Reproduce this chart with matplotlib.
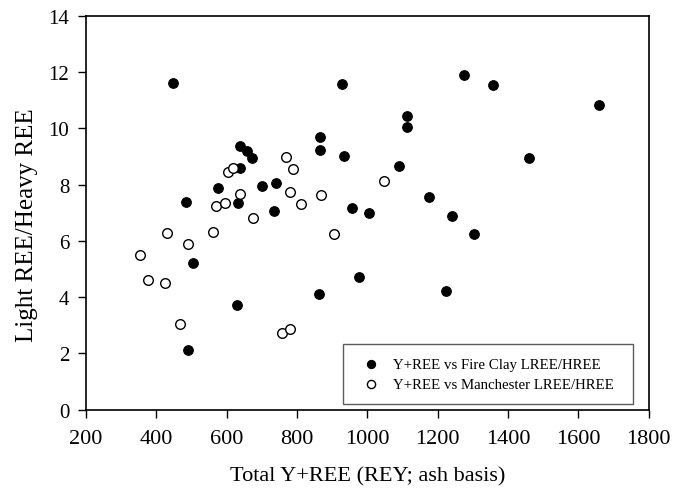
import matplotlib.pyplot as plt

plt.rcParams['font.family'] = ['Liberation Serif', 'DejaVu Serif']

# Fire Clay: total Y+REE vs LREE/HREE
fire_rey = [449, 639, 658, 671, 639, 867, 867, 577, 701, 742, 486, 633, 736, 505, 863, 631, 489,
            927, 1275, 1358, 1658, 1112, 1112, 934, 1460, 1090, 1175, 956, 1004, 1242, 1304, 978, 1225]
fire_ratio = [11.62, 9.37, 9.19, 8.93, 8.57, 9.68, 9.21, 7.86, 7.94, 8.06, 7.39, 7.36, 7.06, 5.21, 4.12, 3.71, 2.14,
              11.57, 11.88, 11.52, 10.83, 10.43, 10.04, 9.02, 8.94, 8.65, 7.57, 7.18, 6.99, 6.90, 6.23, 4.71, 4.21]

# Manchester: total Y+REE vs LREE/HREE
man_rey = [1049, 907, 770, 790, 603, 619, 639, 780, 870, 570, 597, 812, 674, 431, 561, 489, 355, 376, 425, 468, 757, 781]
man_ratio = [8.11, 6.26, 8.99, 8.54, 8.45, 8.60, 7.68, 7.73, 7.63, 7.25, 7.36, 7.31, 6.81, 6.29, 6.32, 5.89, 5.48, 4.60, 4.51, 3.04, 2.71, 2.88]

fig = plt.figure(figsize=(6.87, 4.89), dpi=100)
ax = fig.add_axes([0.125, 0.16, 0.819, 0.806])

ax.scatter(fire_rey, fire_ratio, s=48, c='black', edgecolors='black', linewidths=0.8,
           label='Y+REE vs Fire Clay LREE/HREE', zorder=3)
ax.scatter(man_rey, man_ratio, s=48, c='white', edgecolors='black', linewidths=1.0,
           label='Y+REE vs Manchester LREE/HREE', zorder=3)

ax.set_xlim(200, 1800)
ax.set_ylim(0, 14)
ax.set_xticks(range(200, 1801, 200))
ax.set_yticks(range(0, 15, 2))
ax.tick_params(direction='out', length=6, width=1, pad=6)
ax.tick_params(axis='x', labelsize=16, pad=8)
ax.tick_params(axis='y', labelsize=15)

for sp in ax.spines.values():
    sp.set_linewidth(1.2)

ax.set_xlabel('Total Y+REE (REY; ash basis)', fontsize=16, labelpad=13)
ax.set_ylabel('Light REE/Heavy REE', fontsize=18)
ax.yaxis.set_label_coords(-0.085, 0.47)

leg = ax.legend(loc='lower left', bbox_to_anchor=(0.457, 0.0147, 0.5155, 0.15), mode='expand',
                fontsize=10.7, frameon=True, fancybox=False, edgecolor='#333333',
                markerscale=0.85, handlelength=2.0, handletextpad=0.47,
                borderpad=0.9, labelspacing=0.45, borderaxespad=0.0)
leg.get_frame().set_linewidth(1.0)

fig.savefig('out.png', dpi=100)
